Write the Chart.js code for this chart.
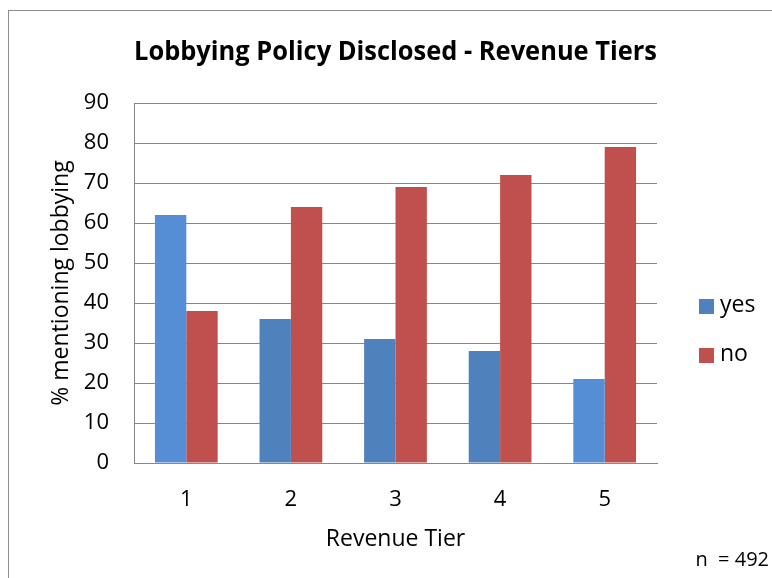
<!DOCTYPE html>
<html>
<head>
<meta charset="utf-8">
<script src="https://cdn.jsdelivr.net/npm/chart.js@4/dist/chart.umd.min.js"></script>
<style>
  html, body { margin: 0; padding: 0; background: #fff; }
  #wrap { position: relative; width: 772px; height: 578px; }
</style>
</head>
<body>
<div id="wrap"><canvas id="c" width="772" height="578"></canvas></div>
<script>
// data
const tiers = ['1', '2', '3', '4', '5'];
const yesValues = [62, 36, 31, 28, 21];
const noValues = [38, 64, 69, 72, 79];
const sampleNote = 'n  = 492';

const FONT = "'Open Sans', sans-serif";
const GRID = '#878787';
const yesColors = ['#558ED5', '#4F81BD', '#4F81BD', '#4F81BD', '#558ED5'];

// frame, custom legend and the n note
const extras = {
  id: 'extras',
  beforeDraw(chart) {
    const ctx = chart.ctx;
    ctx.save();
    ctx.fillStyle = '#fff';
    ctx.fillRect(0, 0, chart.width, chart.height);
    ctx.strokeStyle = '#8e8e8e';
    ctx.lineWidth = 1;
    ctx.strokeRect(8.5, 10.5, 900, 700);
    ctx.restore();
  },
  afterDraw(chart) {
    const ctx = chart.ctx;
    ctx.save();
    ctx.font = '23px ' + FONT;
    ctx.textBaseline = 'middle';
    chart.data.datasets.forEach((ds, i) => {
      const y = 306 + i * 49;
      ctx.fillStyle = i === 0 ? '#4F81BD' : '#C0504D';
      ctx.fillRect(699, y - 7, 15, 15);
      ctx.fillStyle = '#000';
      ctx.fillText(ds.label, 720, y - 1);
    });
    ctx.font = '20px ' + FONT;
    ctx.textAlign = 'right';
    ctx.fillText(sampleNote, 769, 560);
    ctx.restore();
  }
};

new Chart(document.getElementById('c'), {
  type: 'bar',
  data: {
    labels: tiers,
    datasets: [
      { label: 'yes', data: yesValues, backgroundColor: yesColors, borderWidth: 0 },
      { label: 'no', data: noValues, backgroundColor: '#C0504D', borderWidth: 0 }
    ]
  },
  options: {
    responsive: false,
    animation: false,
    layout: { padding: { left: 8, right: 115, top: 0, bottom: 0 } },
    plugins: {
      legend: { display: false },
      tooltip: { enabled: false },
      title: {
        display: true,
        fullSize: false,
        text: 'Lobbying Policy Disclosed - Revenue Tiers',
        color: '#000',
        font: { family: FONT, size: 27, weight: 'bold', lineHeight: 1.2 },
        padding: { top: 36.5, bottom: 34.1 }
      }
    },
    datasets: { bar: { categoryPercentage: 0.6, barPercentage: 1.0 } },
    scales: {
      x: {
        grid: { display: false, drawTicks: false },
        border: { display: true, color: GRID, width: 1 },
        ticks: { color: '#000', padding: 24, font: { family: FONT, size: 22 } },
        title: {
          display: true, text: 'Revenue Tier', color: '#000',
          font: { family: FONT, size: 23 }, padding: { top: 0, bottom: 25 }
        },
        afterFit(scale) { scale.height = 115; }
      },
      y: {
        min: 0, max: 90,
        grid: { color: GRID, lineWidth: 1, drawTicks: false },
        border: { display: true, color: GRID, width: 1 },
        ticks: { stepSize: 10, color: '#000', padding: 25, font: { family: FONT, size: 22 } },
        title: {
          display: true, text: '% mentioning lobbying', color: '#000',
          font: { family: FONT, size: 23 }, padding: { top: 39.5, bottom: 0 }
        },
        afterFit(scale) { scale.width = 126; }
      }
    }
  },
  plugins: [extras]
});
</script>
</body>
</html>
